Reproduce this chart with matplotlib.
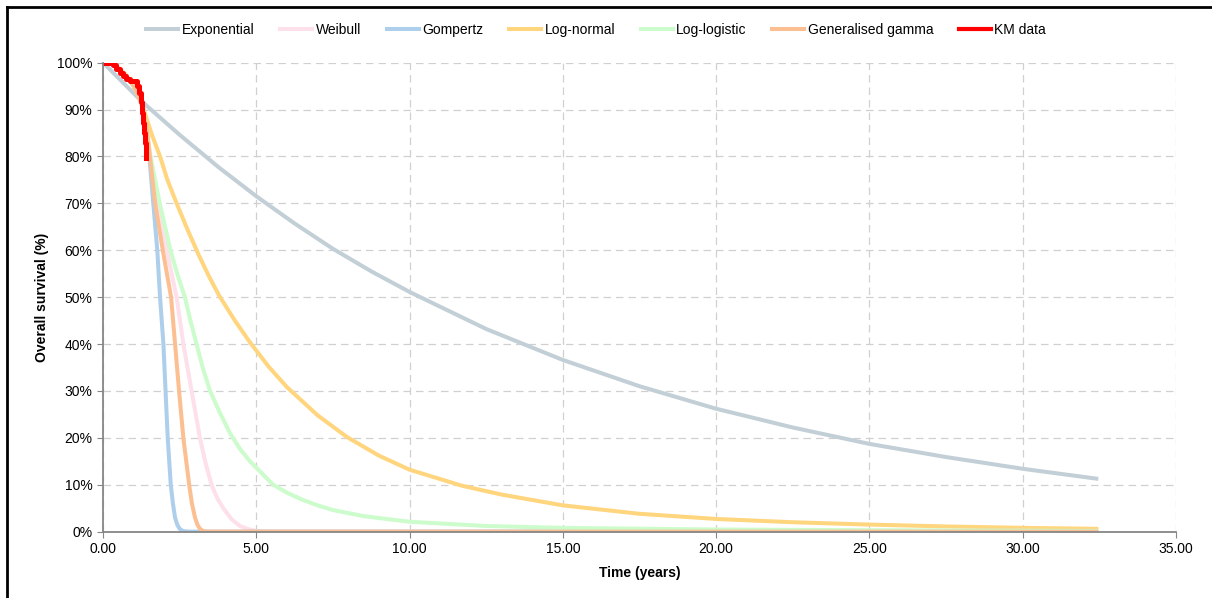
import numpy as np
import matplotlib.pyplot as plt
from matplotlib.lines import Line2D
from matplotlib.ticker import FuncFormatter, MultipleLocator

plt.rcParams['font.family'] = ['Liberation Sans', 'DejaVu Sans']
plt.rcParams['font.size'] = 10

# 读图得到的数据 (时间: 年, 生存率: %)
exp_t = [0, 1.3, 2.5, 3.75, 5, 6.25, 7.5, 8.75, 10, 12.5, 15, 17.5, 20, 22.5, 25, 27.5, 30, 32.4]
exp_s = [100, 91.5, 84.6, 77.8, 71.5, 65.7, 60.3, 55.5, 51.1, 43.2, 36.6, 31.0, 26.2, 22.2, 18.7, 15.9, 13.4, 11.3]

wei_t = [0, 0.25, 0.5, 0.75, 1.0, 1.15, 1.3, 1.42, 1.53, 1.75, 2.08, 2.40, 2.62, 2.89, 3.16, 3.35, 3.54,
         3.72, 3.92, 4.2, 4.47, 4.75, 5.0, 5.4, 32.4]
wei_s = [100, 99.8, 98.9, 97.3, 95.0, 93.0, 90.3, 86, 80, 70, 60, 50, 40, 30, 20, 14.5, 10,
         7.2, 5, 2.6, 1.2, 0.5, 0.15, 0, 0]

gom_t = [0, 0.25, 0.5, 0.75, 1.0, 1.15, 1.3, 1.42, 1.51, 1.64, 1.77, 1.86, 1.97, 2.04, 2.11, 2.21,
         2.28, 2.35, 2.42, 2.5, 2.6, 2.75, 32.4]
gom_s = [100, 99.8, 98.9, 97.3, 95.0, 93.0, 90.3, 85, 80, 70, 60, 50, 40, 30, 20, 10,
         6, 3, 1.5, 0.6, 0.15, 0, 0]

lnorm_t = [0, 0.25, 0.5, 0.75, 1.0, 1.15, 1.3, 1.45, 1.6, 1.86, 2.1, 2.4, 2.75, 3.12, 3.45, 3.79, 4.3, 4.8,
           5.4, 6.0, 7.0, 7.95, 9.0, 10, 11.7, 13, 15, 17.5, 20, 22.5, 25, 27.5, 30, 32.4]
lnorm_s = [100, 99.8, 98.9, 97.3, 95.0, 93.0, 90.6, 87.5, 84.5, 80, 75, 70, 64.5, 59, 54.5, 50.3, 45, 40.3,
           35.2, 30.8, 24.8, 20.2, 16.2, 13.2, 9.8, 7.9, 5.6, 3.8, 2.7, 2.0, 1.5, 1.1, 0.8, 0.6]

llog_t = [0, 0.25, 0.5, 0.75, 1.0, 1.15, 1.3, 1.42, 1.55, 1.85, 2.2, 2.42, 2.67, 2.85, 3.05, 3.25, 3.49, 3.8,
          4.14, 4.45, 4.79, 5.55, 6.0, 6.5, 7.0, 7.5, 8.5, 10, 12.5, 15, 20, 25, 32.4]
llog_s = [100, 99.8, 98.9, 97.3, 95.0, 93.0, 90.3, 86, 80, 70, 60, 55, 50, 45, 40, 35, 30, 25.5,
          21, 17.8, 15, 10, 8.3, 6.8, 5.6, 4.6, 3.3, 2.1, 1.2, 0.8, 0.45, 0.3, 0.15]

gg_t = [0, 0.25, 0.5, 0.75, 1.0, 1.15, 1.3, 1.42, 1.53, 1.70, 1.95, 2.22, 2.35, 2.48, 2.62, 2.81,
        2.9, 3.0, 3.08, 3.15, 3.25, 3.4, 32.4]
gg_s = [100, 99.8, 98.9, 97.3, 95.0, 93.0, 90.3, 86, 80, 70, 60, 50, 40, 30, 20, 10,
        6, 3, 1.5, 0.7, 0.15, 0, 0]

km_t = [0, 0.33, 0.43, 0.54, 0.65, 0.76, 0.87, 1.12, 1.18, 1.23, 1.27, 1.31, 1.35, 1.38, 1.41]
km_s = [100, 99.4, 98.6, 97.8, 97.1, 96.4, 96.0, 95.0, 93.6, 91.5, 89.3, 87.2, 85.0, 82.9, 79.7]

fig = plt.figure(figsize=(12.12, 5.98), dpi=100)
ax = fig.add_axes([0.085, 0.111, 0.8853, 0.7843])

lw = 2.9
ax.plot(exp_t, exp_s, color='#C3CFD6', lw=lw, label='Exponential')
ax.plot(wei_t, wei_s, color='#FDE0EA', lw=lw, label='Weibull')
ax.plot(gom_t, gom_s, color='#AECFEB', lw=lw, label='Gompertz')
ax.plot(lnorm_t, lnorm_s, color='#FFD57E', lw=lw, label='Log-normal')
ax.plot(llog_t, llog_s, color='#CCFCCC', lw=lw, label='Log-logistic')
ax.plot(gg_t, gg_s, color='#FCBF92', lw=lw, label='Generalised gamma')
ax.plot(km_t, km_s, color='#FF0000', lw=3.6, label='KM data', drawstyle='steps-post')

ax.set_xlim(0, 35)
ax.set_ylim(0, 100)
ax.xaxis.set_major_locator(MultipleLocator(5))
ax.yaxis.set_major_locator(MultipleLocator(10))
ax.xaxis.set_major_formatter(FuncFormatter(lambda v, p: '%.2f' % v))
ax.yaxis.set_major_formatter(FuncFormatter(lambda v, p: '%d%%' % v))
ax.grid(True, color='#D0D0D0', linestyle=(0, (6, 4)), linewidth=0.9)
ax.set_axisbelow(True)
for s in ['top', 'right']:
    ax.spines[s].set_visible(False)
for s in ['left', 'bottom']:
    ax.spines[s].set_color('#868686')
    ax.spines[s].set_linewidth(1.3)
ax.tick_params(axis='both', direction='out', length=4, color='#868686', labelsize=10, labelcolor='#000000')

ax.set_xlabel('Time (years)', fontweight='bold', fontsize=10, labelpad=7)
ax.set_ylabel('Overall survival (%)', fontweight='bold', fontsize=10, labelpad=6)

leg = fig.legend(loc='center', bbox_to_anchor=(0.492, 1 - 30 / 598), ncol=7, frameon=False,
                 fontsize=10, handlelength=2.3, columnspacing=1.85, handletextpad=0.25)
leg.get_lines()[-1].set_linewidth(3.0)

# 外边框
fig.add_artist(Line2D([7 / 1212, 7 / 1212], [0, 1 - 7 / 598], color='black', lw=2, transform=fig.transFigure))
fig.add_artist(Line2D([7 / 1212, 1], [1 - 7 / 598, 1 - 7 / 598], color='black', lw=2, transform=fig.transFigure))

fig.savefig('out.png', dpi=100)
